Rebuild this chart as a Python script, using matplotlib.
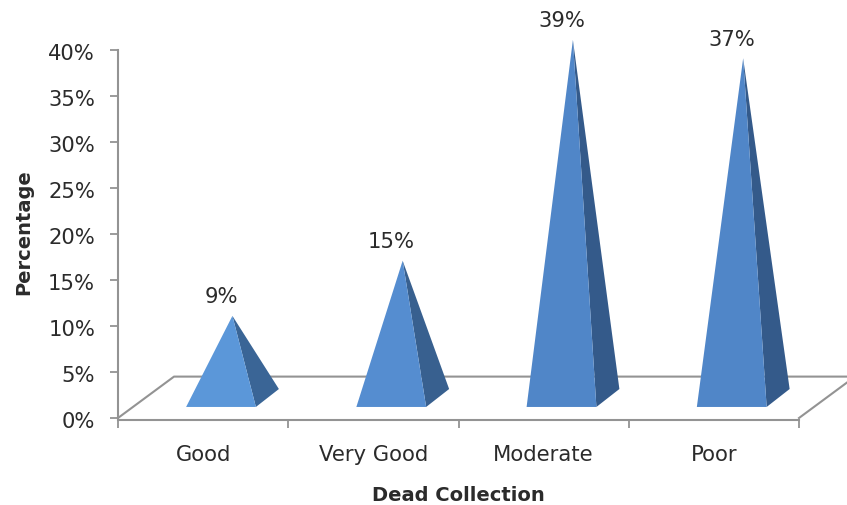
import matplotlib
matplotlib.use('Agg')
import matplotlib.pyplot as plt
from matplotlib.patches import Polygon
from matplotlib.transforms import ScaledTranslation

categories = ['Good', 'Very Good', 'Moderate', 'Poor']
values = [9, 15, 39, 37]
y_ticks = [0, 5, 10, 15, 20, 25, 30, 35, 40]

plt.rcParams['font.family'] = ['DejaVu Sans']

W, H = 847, 506
grey = '#939393'
ink = '#2b2b2b'
front_colors = ['#5b97d9', '#558dd0', '#5086c8', '#5086c8']
side_colors = ['#3a6596', '#38608f', '#345a8a', '#345a8a']

# floor depth, in axis units
depth_x = 0.329
depth_y = 4.5
# pyramid footprint relative to the slot centre
base_left = -0.10
base_w = 0.41
base_lift = 1.2
side_dx = 0.135
side_dy = 1.95
apex_dx = 0.172
apex_dy = 2.1

fig = plt.figure(figsize=(W / 100, H / 100), dpi=100)
ax = fig.add_axes([118 / W, 1 - 419 / H, 681 / W, 368 / H])
ax.set_xlim(0, 4)
ax.set_ylim(0, 40)

# 3D floor outline
ax.plot([0, depth_x, 4 + depth_x, 4], [0, depth_y, depth_y, 0],
        color=grey, lw=1.5, clip_on=False, zorder=1)

for i, v in enumerate(values):
    c = i + 0.5
    fl = c + base_left
    fr = fl + base_w
    apex = (c + apex_dx, v + apex_dy)
    ax.add_patch(Polygon([(fr, base_lift), (fr + side_dx, base_lift + side_dy), apex],
                         closed=True, fc=side_colors[i], ec='none', clip_on=False, zorder=2))
    ax.add_patch(Polygon([(fl, base_lift), (fr, base_lift), apex],
                         closed=True, fc=front_colors[i], ec='none', clip_on=False, zorder=3))
    ax.annotate(f'{v}%', (fl + base_w / 2, v + apex_dy), xytext=(0, 14.2),
                textcoords='offset points', ha='center', va='center',
                fontsize=15.2, color=ink, annotation_clip=False)

ax.set_yticks(y_ticks)
ax.set_yticklabels([f'{t}%' for t in y_ticks])
ax.set_xticks([0, 1, 2, 3, 4])
ax.set_xticklabels([])
ax.set_xticks([0.5, 1.5, 2.5, 3.5], minor=True)
ax.set_xticklabels(categories, minor=True)
ax.tick_params(axis='x', which='major', length=6, width=1.3, color=grey)
ax.tick_params(axis='x', which='minor', length=0, pad=17, labelsize=15.2, labelcolor=ink)
ax.tick_params(axis='y', length=6, width=1.3, color=grey, pad=10.5, labelsize=15.2, labelcolor=ink)

# nudge the percent labels down a little against their ticks
shift = ScaledTranslation(0, -1.5 / 100, fig.dpi_scale_trans)
for lbl in ax.get_yticklabels():
    lbl.set_transform(lbl.get_transform() + shift)

for s in ['top', 'right']:
    ax.spines[s].set_visible(False)
for s in ['left', 'bottom']:
    ax.spines[s].set_color(grey)
    ax.spines[s].set_linewidth(1.5)
ax.spines['bottom'].set_position(('outward', 1.5))

fig.text(458 / W, 1 - 496 / H, 'Dead Collection', fontsize=14, fontweight='bold',
         ha='center', va='center', color=ink)
fig.text(24 / W, 1 - 232 / H, 'Percentage', fontsize=14, fontweight='bold', rotation=90,
         ha='center', va='center', color=ink)

fig.savefig('out.png', dpi=100)
